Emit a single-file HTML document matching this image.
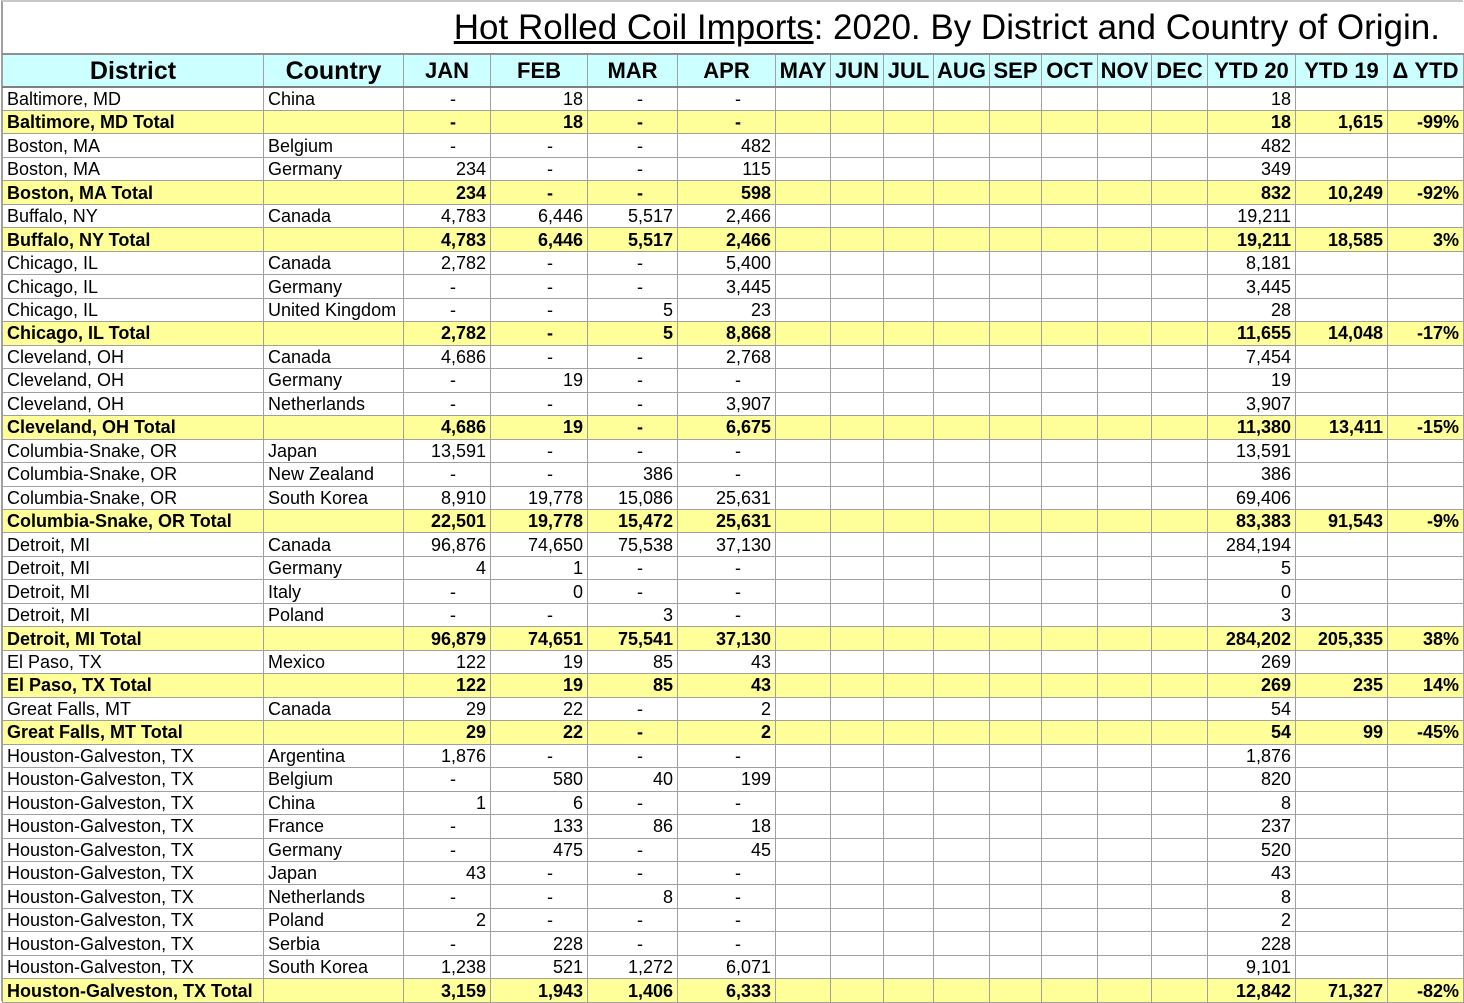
<!DOCTYPE html>
<html><head><meta charset="utf-8">
<style>
html,body{margin:0;padding:0;background:#fff;}
body{width:1464px;height:1001px;overflow:hidden;position:relative;font-family:"Liberation Sans",Arial,sans-serif;}
#frame{position:absolute;left:1px;top:0;width:1462px;height:1001px;border-left:2px solid #a0a0a0;border-top:2px solid #c8c8c8;box-sizing:border-box;}
#title{position:absolute;top:8px;right:24px;font-size:35px;color:#000;white-space:nowrap;}
#title u{text-decoration:underline;}
table{position:absolute;left:2px;top:53px;border-collapse:collapse;table-layout:fixed;width:1461px;}
td,th{border:1px solid #a0a0a0;padding:0 4px;overflow:hidden;white-space:nowrap;font-size:18px;line-height:22px;box-sizing:border-box;}
tbody tr{height:23.47px;}
th{background:#ccffff;font-weight:bold;font-size:22px;height:33px;border-bottom:2px solid #808080;border-top:2px solid #909090;padding:0 2px;}
th.big{font-size:25px;}
td.n{text-align:right;}
tr.t td{background:#ffff99;font-weight:bold;}
</style></head><body>
<div id="frame"></div>
<div id="title"><u>Hot Rolled Coil Imports</u>: 2020. By District and Country of Origin.</div>
<table id="tbl">
<colgroup>
<col style="width:261px"><col style="width:140px"><col style="width:87px"><col style="width:97px"><col style="width:90px"><col style="width:98px"><col style="width:55px"><col style="width:53px"><col style="width:50px"><col style="width:56px"><col style="width:52px"><col style="width:56px"><col style="width:54px"><col style="width:56px"><col style="width:88px"><col style="width:92px"><col style="width:76px">
</colgroup>
<thead><tr id="hdr"></tr></thead>
<tbody id="body"></tbody>
</table>
<script>
const headers=["District","Country","JAN","FEB","MAR","APR","MAY","JUN","JUL","AUG","SEP","OCT","NOV","DEC","YTD 20","YTD 19","Δ YTD"];
const rows=[
["Baltimore, MD","China","-","18","-","-","18","","",0],
["Baltimore, MD Total","","-","18","-","-","18","1,615","-99%",1],
["Boston, MA","Belgium","-","-","-","482","482","","",0],
["Boston, MA","Germany","234","-","-","115","349","","",0],
["Boston, MA Total","","234","-","-","598","832","10,249","-92%",1],
["Buffalo, NY","Canada","4,783","6,446","5,517","2,466","19,211","","",0],
["Buffalo, NY Total","","4,783","6,446","5,517","2,466","19,211","18,585","3%",1],
["Chicago, IL","Canada","2,782","-","-","5,400","8,181","","",0],
["Chicago, IL","Germany","-","-","-","3,445","3,445","","",0],
["Chicago, IL","United Kingdom","-","-","5","23","28","","",0],
["Chicago, IL Total","","2,782","-","5","8,868","11,655","14,048","-17%",1],
["Cleveland, OH","Canada","4,686","-","-","2,768","7,454","","",0],
["Cleveland, OH","Germany","-","19","-","-","19","","",0],
["Cleveland, OH","Netherlands","-","-","-","3,907","3,907","","",0],
["Cleveland, OH Total","","4,686","19","-","6,675","11,380","13,411","-15%",1],
["Columbia-Snake, OR","Japan","13,591","-","-","-","13,591","","",0],
["Columbia-Snake, OR","New Zealand","-","-","386","-","386","","",0],
["Columbia-Snake, OR","South Korea","8,910","19,778","15,086","25,631","69,406","","",0],
["Columbia-Snake, OR Total","","22,501","19,778","15,472","25,631","83,383","91,543","-9%",1],
["Detroit, MI","Canada","96,876","74,650","75,538","37,130","284,194","","",0],
["Detroit, MI","Germany","4","1","-","-","5","","",0],
["Detroit, MI","Italy","-","0","-","-","0","","",0],
["Detroit, MI","Poland","-","-","3","-","3","","",0],
["Detroit, MI Total","","96,879","74,651","75,541","37,130","284,202","205,335","38%",1],
["El Paso, TX","Mexico","122","19","85","43","269","","",0],
["El Paso, TX Total","","122","19","85","43","269","235","14%",1],
["Great Falls, MT","Canada","29","22","-","2","54","","",0],
["Great Falls, MT Total","","29","22","-","2","54","99","-45%",1],
["Houston-Galveston, TX","Argentina","1,876","-","-","-","1,876","","",0],
["Houston-Galveston, TX","Belgium","-","580","40","199","820","","",0],
["Houston-Galveston, TX","China","1","6","-","-","8","","",0],
["Houston-Galveston, TX","France","-","133","86","18","237","","",0],
["Houston-Galveston, TX","Germany","-","475","-","45","520","","",0],
["Houston-Galveston, TX","Japan","43","-","-","-","43","","",0],
["Houston-Galveston, TX","Netherlands","-","-","8","-","8","","",0],
["Houston-Galveston, TX","Poland","2","-","-","-","2","","",0],
["Houston-Galveston, TX","Serbia","-","228","-","-","228","","",0],
["Houston-Galveston, TX","South Korea","1,238","521","1,272","6,071","9,101","","",0],
["Houston-Galveston, TX Total","","3,159","1,943","1,406","6,333","12,842","71,327","-82%",1]
];
const hdr=document.getElementById('hdr');
headers.forEach((h,i)=>{
  const th=document.createElement('th');
  th.textContent=h;
  if(i<2) th.className='big';
  
  
  hdr.appendChild(th);
});
const body=document.getElementById('body');
const marks=(v)=>v==='-'?'-\u00a0\u00a0\u00a0\u00a0\u00a0\u00a0':v;
rows.forEach((r,ri)=>{
  const tr=document.createElement('tr');
  if(r[9]) tr.className='t';
  
  
  const cells=[r[0],r[1],marks(r[2]),marks(r[3]),marks(r[4]),marks(r[5]),"","","","","","","","",r[6],r[7],r[8]];
  cells.forEach((c,ci)=>{
    const td=document.createElement('td');
    td.textContent=c;
    if(ci>=2) td.className='n';
    
    
    tr.appendChild(td);
  });
  body.appendChild(tr);
});
</script>
</body></html>
